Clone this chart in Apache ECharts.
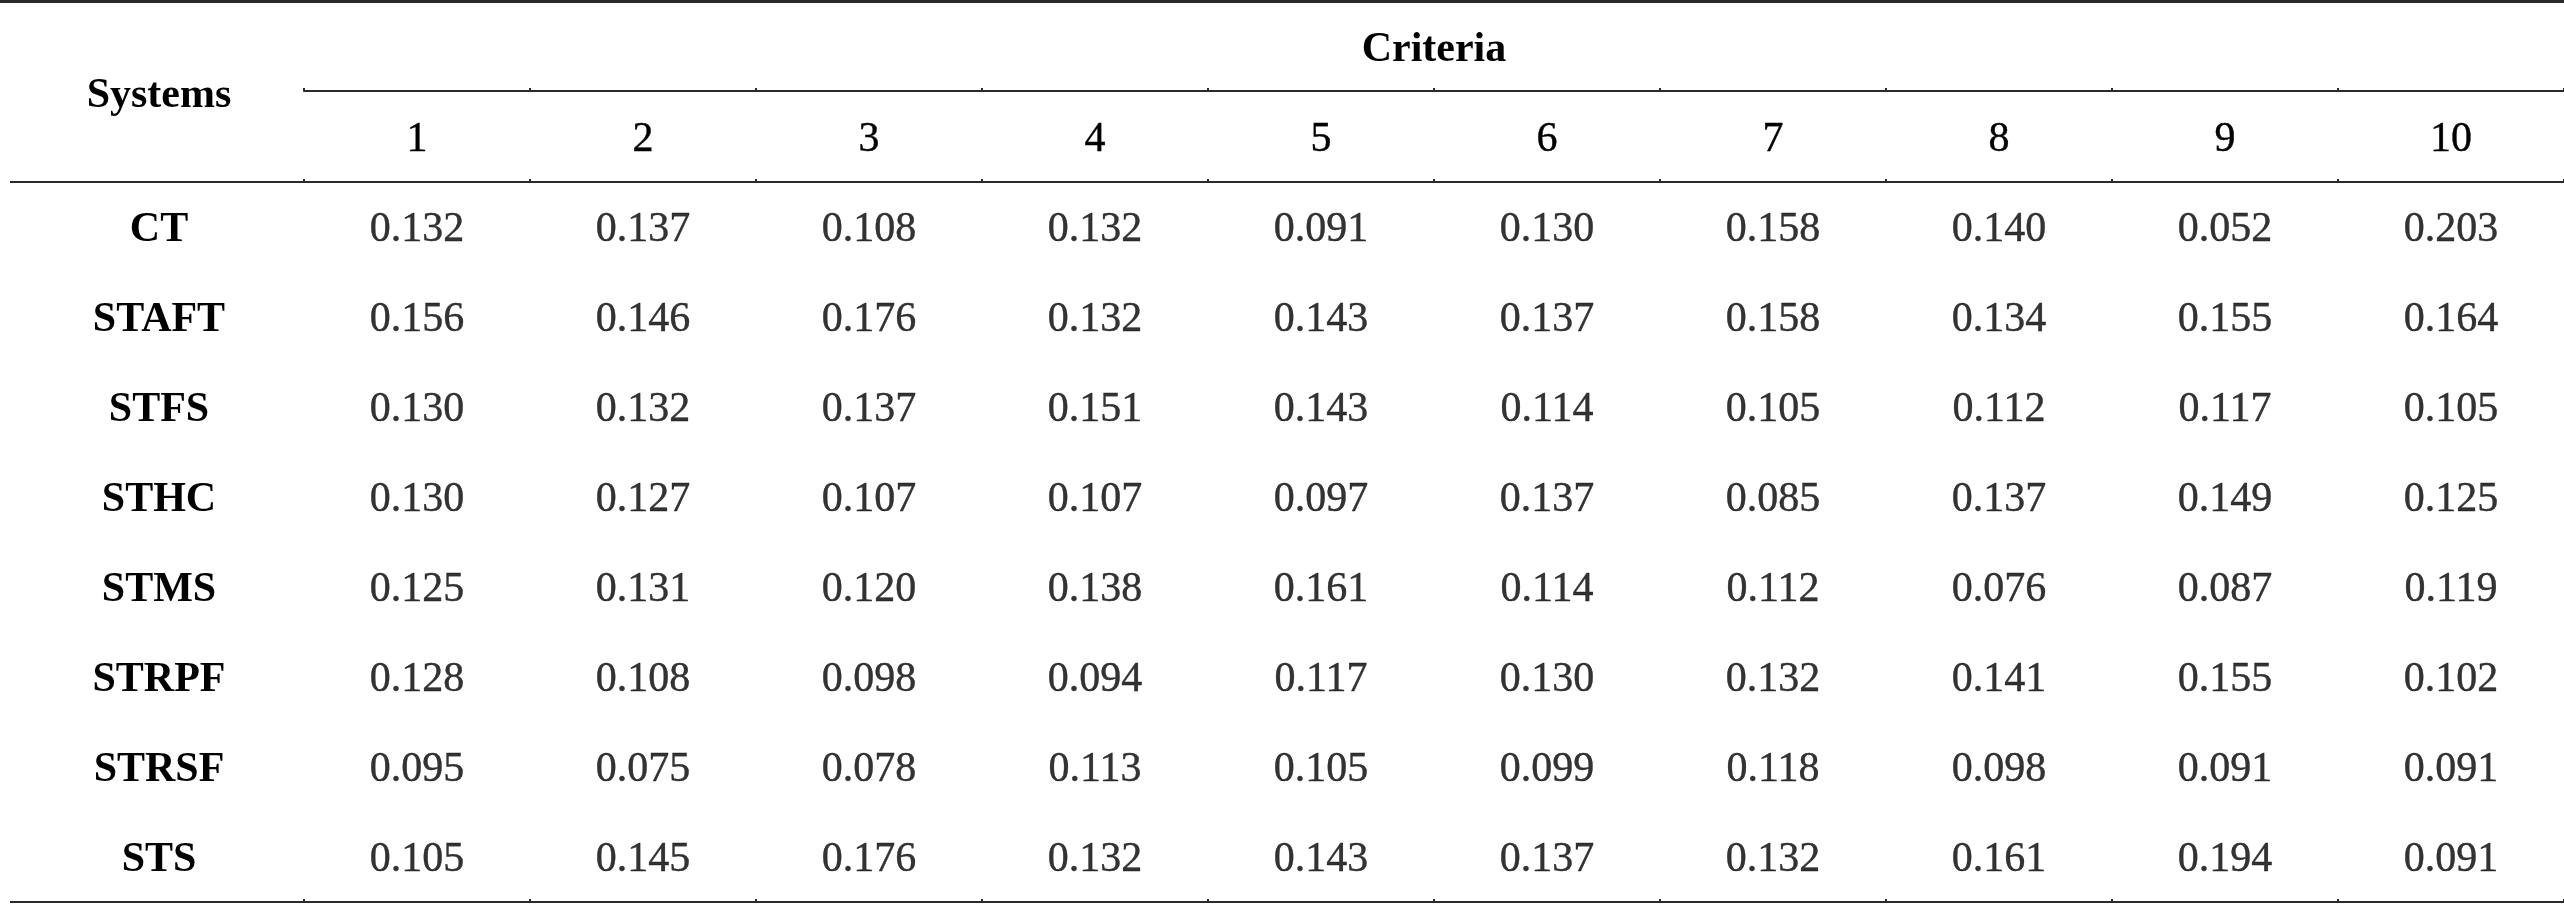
<!DOCTYPE html>
<html>
<head>
<meta charset="utf-8">
<script src="https://cdn.jsdelivr.net/npm/echarts@6/dist/echarts.min.js"></script>
<style>
html,body{margin:0;padding:0;background:#fff;}
#chart{width:2564px;height:905px;}
</style>
</head>
<body>
<div id="chart"></div>
<script>
const criteria = ['1','2','3','4','5','6','7','8','9','10'];
const systems = ['CT','STAFT','STFS','STHC','STMS','STRPF','STRSF','STS'];
const CT    = [0.132,0.137,0.108,0.132,0.091,0.130,0.158,0.140,0.052,0.203];
const STAFT = [0.156,0.146,0.176,0.132,0.143,0.137,0.158,0.134,0.155,0.164];
const STFS  = [0.130,0.132,0.137,0.151,0.143,0.114,0.105,0.112,0.117,0.105];
const STHC  = [0.130,0.127,0.107,0.107,0.097,0.137,0.085,0.137,0.149,0.125];
const STMS  = [0.125,0.131,0.120,0.138,0.161,0.114,0.112,0.076,0.087,0.119];
const STRPF = [0.128,0.108,0.098,0.094,0.117,0.130,0.132,0.141,0.155,0.102];
const STRSF = [0.095,0.075,0.078,0.113,0.105,0.099,0.118,0.098,0.091,0.091];
const STS   = [0.105,0.145,0.176,0.132,0.143,0.137,0.132,0.161,0.194,0.091];
const rows = [CT, STAFT, STFS, STHC, STMS, STRPF, STRSF, STS];

const FONT = "'Liberation Serif','Times New Roman',serif";
const LINE = '#2a2a2a';
const FS = 42;

const cells = [];
rows.forEach((r, ri) => r.forEach((v, ci) => cells.push([ci, ri, v])));

const chart = echarts.init(document.getElementById('chart'), null, {renderer: 'canvas'});
const G = {left: 304, right: 0, top: 182, bottom: 3};

chart.setOption({
  animation: false,
  backgroundColor: '#fff',
  grid: G,
  xAxis: [
    {
      type: 'category', data: criteria, position: 'top', boundaryGap: true,
      axisLine: {show: true, lineStyle: {color: LINE, width: 2}},
      axisTick: {show: true, length: 3, lineStyle: {color: LINE, width: 2}},
      axisLabel: {show: true, fontFamily: FONT, fontSize: FS, color: '#000', margin: 42, verticalAlign: 'middle',
                  textBorderColor: '#000', textBorderWidth: 0.4},
      splitLine: {show: false}
    },
    {
      type: 'category', data: criteria, position: 'top', offset: 91, boundaryGap: true,
      name: 'Criteria', nameLocation: 'middle', nameGap: 41,
      nameTextStyle: {fontFamily: FONT, fontSize: FS, fontWeight: 'bold', color: '#000', verticalAlign: 'middle'},
      axisLine: {show: true, lineStyle: {color: LINE, width: 2}},
      axisTick: {show: true, length: 3, lineStyle: {color: LINE, width: 2}},
      axisLabel: {show: false},
      splitLine: {show: false}
    },
    {
      type: 'category', data: criteria, position: 'bottom', boundaryGap: true,
      axisLine: {show: true, lineStyle: {color: LINE, width: 2}},
      axisTick: {show: true, inside: true, length: 3, lineStyle: {color: LINE, width: 2}},
      axisLabel: {show: false},
      splitLine: {show: false}
    }
  ],
  yAxis: {
    type: 'category', data: systems, inverse: true, boundaryGap: true,
    axisLine: {show: false}, axisTick: {show: false}, splitLine: {show: false},
    axisLabel: {
      align: 'center', margin: 145,
      formatter: v => '{a|' + v + '}',
      rich: {a: {fontFamily: FONT, fontSize: FS, fontWeight: 'bold', color: '#000', lineHeight: 48, verticalAlign: 'bottom'}}
    }
  },
  series: [{
    type: 'scatter',
    xAxisIndex: 0,
    data: cells,
    symbolSize: 1,
    itemStyle: {color: 'rgba(0,0,0,0)'},
    label: {
      show: true, position: 'inside', offset: [0, 3], fontFamily: FONT, fontSize: FS, color: '#000',
      textBorderColor: '#000', textBorderWidth: 0.4,
      formatter: p => p.value[2].toFixed(3)
    }
  }],
  graphic: [
    {type: 'line', shape: {x1: 0, y1: 1.5, x2: 2564, y2: 1.5}, style: {stroke: LINE, lineWidth: 3}},
    {type: 'line', shape: {x1: 10, y1: 182, x2: 305, y2: 182}, style: {stroke: LINE, lineWidth: 2}},
    {type: 'line', shape: {x1: 10, y1: 902, x2: 305, y2: 902}, style: {stroke: LINE, lineWidth: 2}},
    {type: 'text', position: [159, 96], style: {text: 'Systems', x: 0, y: 0, fontFamily: FONT, fontSize: FS, fontWeight: 'bold', fill: '#000', textAlign: 'center', textVerticalAlign: 'middle'}}
  ]
});
</script>
</body>
</html>
